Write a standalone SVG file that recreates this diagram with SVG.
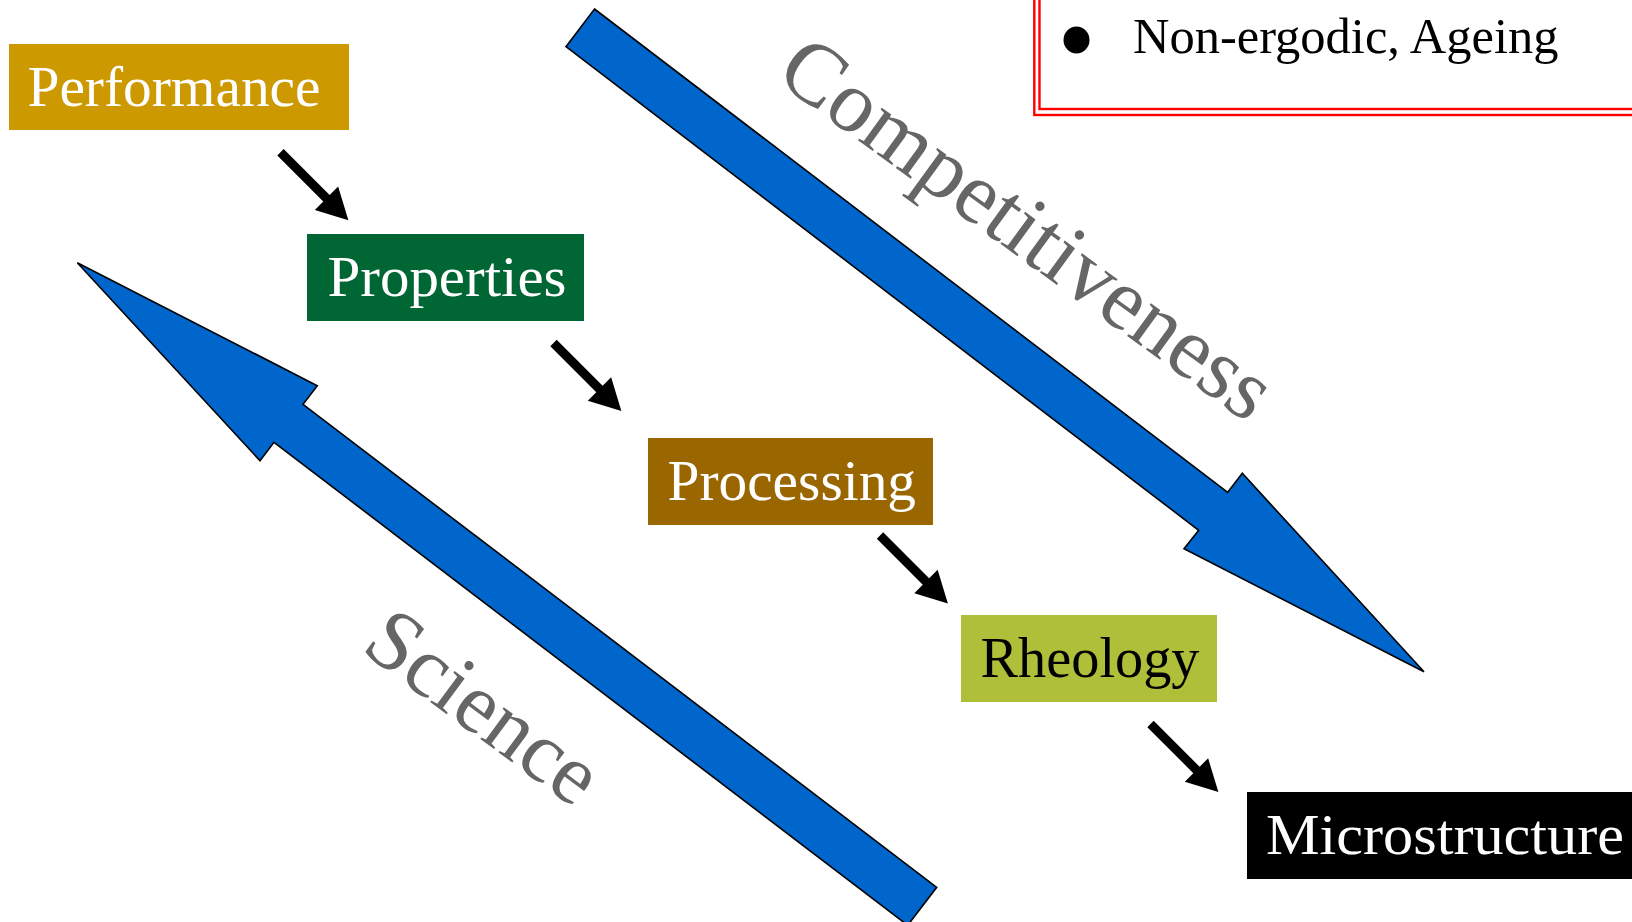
<svg xmlns="http://www.w3.org/2000/svg" width="1632" height="922" viewBox="0 0 1632 922">
<style>
.big{fill:#0066CC;stroke:#000;stroke-width:1.6;stroke-linejoin:miter}
.lbl{font-family:"Liberation Serif","Times New Roman",serif;font-size:58px}
.w{fill:#fff}
.gray{font-family:"Liberation Serif","Times New Roman",serif;fill:#666666}
.red{fill:none;stroke:#FF0000;stroke-width:2.4}
</style>
<defs>
<path id="sa" d="M0,-4.5 H65 V-16.5 L96,0 L65,16.5 V4.5 H0 Z" fill="#000"/>
</defs>
<rect width="1632" height="922" fill="#fff"/>
<g id="note">
<rect class="red" x="1034.3" y="-20" width="700" height="135"/>
<rect class="red" x="1039.5" y="-20" width="700" height="129"/>
<ellipse cx="1076.5" cy="40" rx="13" ry="13.5" fill="#000"/>
<text x="1133" y="53.3" font-family="Liberation Serif, Times New Roman, serif" font-size="50.5" fill="#000">Non-ergodic, Ageing</text>
</g>
<g id="competitiveness">
<polygon class="big" points="594.5,9 1227.7,492.3 1242.3,473.3 1424,671.7 1184,548.7 1198.7,530.3 566,46.7"/>
<text class="gray" font-size="88" transform="translate(773.5,79) rotate(36)">Competitiveness</text>
</g>
<g id="science">
<polygon class="big" points="77.3,262.7 317.3,385.7 303,404.3 936.7,887.3 907.7,925.3 274,442.3 260,460.7"/>
<text class="gray" font-size="86" transform="translate(359.5,650) rotate(36.4)">Science</text>
</g>
<g id="performance">
<rect x="9" y="44" width="340" height="86" fill="#CC9900"/>
<text class="lbl w" x="27.5" y="106" textLength="293" lengthAdjust="spacingAndGlyphs">Performance</text>
</g>
<g id="properties">
<rect x="307" y="234" width="277" height="87" fill="#006633"/>
<text class="lbl w" x="327.5" y="296" textLength="239" lengthAdjust="spacingAndGlyphs">Properties</text>
</g>
<g id="processing">
<rect x="648" y="438" width="285" height="87" fill="#996600"/>
<text class="lbl w" x="667.5" y="500" textLength="248.5" lengthAdjust="spacingAndGlyphs">Processing</text>
</g>
<g id="rheology">
<rect x="961" y="615" width="256" height="87" fill="#AFBF3A"/>
<text class="lbl" x="980.5" y="677" fill="#000" textLength="219" lengthAdjust="spacingAndGlyphs">Rheology</text>
</g>
<g id="microstructure">
<rect x="1247" y="792" width="390" height="87" fill="#000"/>
<text class="lbl w" x="1266" y="854" textLength="358" lengthAdjust="spacingAndGlyphs">Microstructure</text>
</g>
<g id="connectors">
<use href="#sa" transform="translate(280.5,152.3) rotate(45)"/>
<use href="#sa" transform="translate(553.5,343) rotate(45)"/>
<use href="#sa" transform="translate(880,535.5) rotate(45)"/>
<use href="#sa" transform="translate(1150.5,724) rotate(45)"/>
</g>
</svg>
